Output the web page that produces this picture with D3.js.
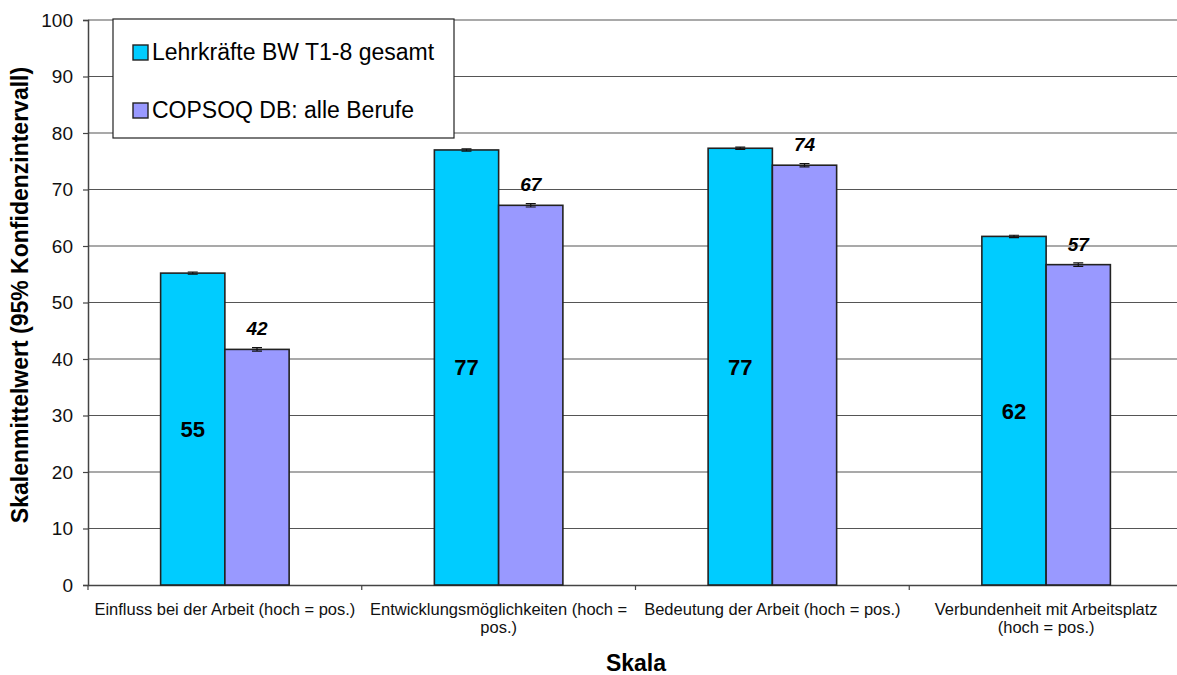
<!DOCTYPE html>
<html>
<head>
<meta charset="utf-8">
<script src="https://cdn.jsdelivr.net/npm/d3@7"></script>
<style>
  body { margin: 0; background: #fff; }
  text { font-family: "Liberation Sans", Arial, sans-serif; }
</style>
</head>
<body>
<svg width="1177" height="675"></svg>
<script>
var categories = [
    "Einfluss bei der Arbeit (hoch = pos.)",
    "Entwicklungsmöglichkeiten (hoch = pos.)",
    "Bedeutung der Arbeit (hoch = pos.)",
    "Verbundenheit mit Arbeitsplatz (hoch = pos.)"
];
var seriesNames = ["Lehrkräfte BW T1-8 gesamt", "COPSOQ DB: alle Berufe"];
var lehrkraefte = [55.2, 77.0, 77.3, 61.7];
var copsoq = [41.7, 67.2, 74.3, 56.7];
var lehrkraefteCI = [0.2, 0.2, 0.2, 0.2];
var copsoqCI = [0.3, 0.3, 0.3, 0.3];
var yTicks = [0, 10, 20, 30, 40, 50, 60, 70, 80, 90, 100];
var colors = ["#00ccff", "#9999ff"];

var svg = d3.select("svg"),
    mLeft = 88, mTop = 20, mRight = 1183, mBottom = 585;

var x = d3.scaleBand().domain(categories).range([mLeft, mRight]);
var xs = d3.scaleBand().domain([0, 1]).range([0, x.bandwidth()]).paddingOuter(1.13);
var y = d3.scaleLinear().domain([0, 100]).range([mBottom, mTop]);

// gridlines
svg.append("g")
    .selectAll("line")
    .data(yTicks.slice(1))
    .enter().append("line")
    .attr("x1", mLeft).attr("x2", mRight)
    .attr("y1", d => y(d)).attr("y2", d => y(d))
    .attr("stroke", "#555").attr("stroke-width", 1.2);

// y axis
var yAxis = svg.append("g")
    .attr("transform", "translate(" + mLeft + ",0)")
    .call(d3.axisLeft(y).tickValues(yTicks).tickSize(5).tickPadding(10));
yAxis.select(".domain").attr("stroke", "#444").attr("stroke-width", 1.5);
yAxis.selectAll(".tick line").attr("stroke", "#444").attr("stroke-width", 1.2);
yAxis.selectAll("text").style("font-size", "19px").attr("fill", "#111");

// x axis with ticks on category boundaries
var xAxis = svg.append("g")
    .attr("transform", "translate(0," + mBottom + ")")
    .call(d3.axisBottom(x).tickSize(0).tickPadding(18));
xAxis.select(".domain").attr("stroke", "#444").attr("stroke-width", 1.5);
xAxis.selectAll("text").style("font-size", "16.5px").attr("fill", "#111").call(wrap, 268);
svg.append("g")
    .selectAll("line")
    .data(categories)
    .enter().append("line")
    .attr("x1", d => x(d)).attr("x2", d => x(d))
    .attr("y1", mBottom).attr("y2", mBottom + 5)
    .attr("stroke", "#444").attr("stroke-width", 1.2);

function wrap(texts, width) {
    texts.each(function() {
        var t = d3.select(this),
            words = t.text().split(/\s+/),
            line = [], lineNo = 0,
            yy = t.attr("y"), dy = parseFloat(t.attr("dy"));
        var tspan = t.text(null).append("tspan").attr("x", 0).attr("y", yy).attr("dy", dy + "em");
        words.forEach(function(w) {
            line.push(w);
            tspan.text(line.join(" "));
            if (tspan.node().getComputedTextLength() > width && line.length > 1) {
                line.pop();
                tspan.text(line.join(" "));
                line = [w];
                lineNo++;
                tspan = t.append("tspan").attr("x", 0).attr("y", yy)
                    .attr("dy", (dy + lineNo * 1.12) + "em").text(w);
            }
        });
    });
}

// bars
var series = [lehrkraefte, copsoq];
var cis = [lehrkraefteCI, copsoqCI];
series.forEach(function(vals, s) {
    var g = svg.append("g");
    g.selectAll("rect")
        .data(vals)
        .enter().append("rect")
        .attr("x", (d, i) => x(categories[i]) + xs(s))
        .attr("y", d => y(d))
        .attr("width", xs.bandwidth())
        .attr("height", d => mBottom - y(d))
        .attr("fill", colors[s])
        .attr("stroke", "#222").attr("stroke-width", 1.6);

    // error bars
    g.selectAll(".err")
        .data(vals)
        .enter().append("path")
        .attr("class", "err")
        .attr("d", function(d, i) {
            var cx = x(categories[i]) + xs(s) + xs.bandwidth() / 2,
                lo = y(d - cis[s][i]), hi = y(d + cis[s][i]);
            return "M" + (cx - 5) + "," + hi + "H" + (cx + 5) +
                "M" + (cx - 5) + "," + lo + "H" + (cx + 5) +
                "M" + cx + "," + hi + "V" + lo;
        })
        .attr("stroke", "#111").attr("stroke-width", 1.2).attr("fill", "none");
});

// value labels
svg.append("g").selectAll("text")
    .data(lehrkraefte)
    .enter().append("text")
    .attr("x", (d, i) => x(categories[i]) + xs(0) + xs.bandwidth() / 2)
    .attr("y", d => y(d / 2) + 8)
    .attr("text-anchor", "middle")
    .style("font-size", "22px").style("font-weight", "bold")
    .text(d => Math.round(d));

svg.append("g").selectAll("text")
    .data(copsoq)
    .enter().append("text")
    .attr("x", (d, i) => x(categories[i]) + xs(1) + xs.bandwidth() / 2)
    .attr("y", d => y(d) - 14)
    .attr("text-anchor", "middle")
    .style("font-size", "19px").style("font-weight", "bold").style("font-style", "italic")
    .text(d => Math.round(d));

// axis titles
svg.append("text")
    .attr("transform", "translate(28,295) rotate(-90)")
    .attr("text-anchor", "middle")
    .style("font-size", "23px").style("font-weight", "bold")
    .text("Skalenmittelwert (95% Konfidenzintervall)");

svg.append("text")
    .attr("x", 636).attr("y", 671)
    .attr("text-anchor", "middle")
    .style("font-size", "23px").style("font-weight", "bold")
    .text("Skala");

// legend
var lg = svg.append("g");
lg.append("rect")
    .attr("x", 113).attr("y", 19).attr("width", 341).attr("height", 119)
    .attr("fill", "#fff").attr("stroke", "#222").attr("stroke-width", 1.2);
seriesNames.forEach(function(n, i) {
    var ly = 60 + i * 58;
    lg.append("rect")
        .attr("x", 133).attr("y", ly - 15).attr("width", 15).attr("height", 15)
        .attr("fill", colors[i]).attr("stroke", "#222").attr("stroke-width", 1.4);
    lg.append("text")
        .attr("x", 152).attr("y", ly)
        .style("font-size", "23px")
        .text(n);
});
</script>
</body>
</html>
